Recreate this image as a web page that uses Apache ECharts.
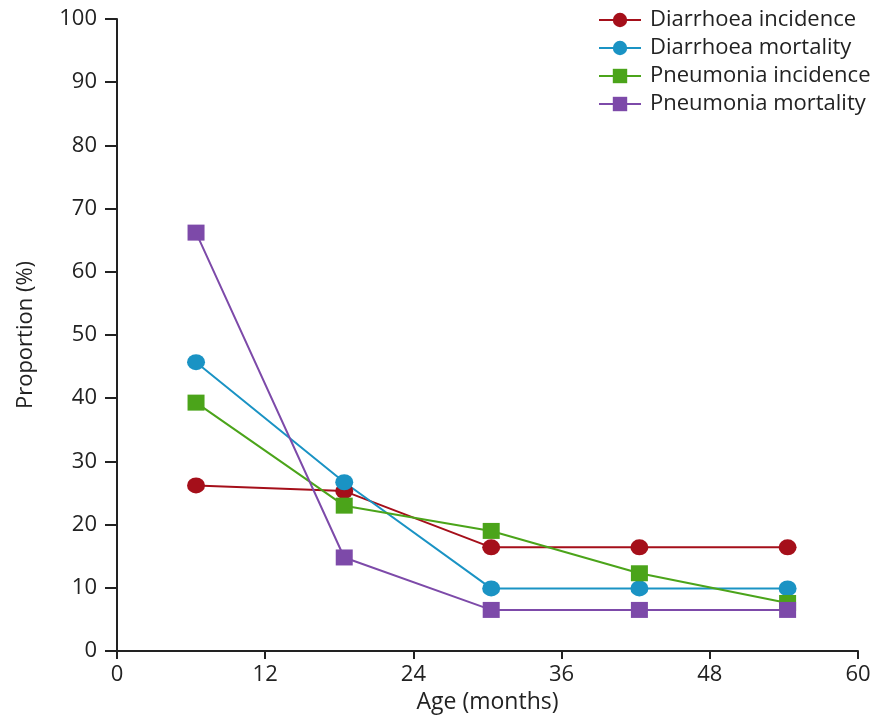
<!DOCTYPE html>
<html><head><meta charset="utf-8">
<script src="https://cdn.jsdelivr.net/npm/echarts@6/dist/echarts.min.js"></script>
<style>html,body{margin:0;padding:0;background:#fff}#c{width:875px;height:719px}</style>
</head><body><div id="c"></div>
<script>
const ages = [6.4, 18.4, 30.3, 42.3, 54.3];
const diarrhoeaIncidence = [26.2, 25.3, 16.4, 16.4, 16.4];
const diarrhoeaMortality = [45.7, 26.7, 9.9, 9.9, 9.9];
const pneumoniaIncidence = [39.3, 23.0, 19.0, 12.3, 7.6];
const pneumoniaMortality = [66.2, 14.8, 6.5, 6.5, 6.5];
const xTicks = [0, 12, 24, 36, 48, 60];

const font = '"Open Sans", Lato, sans-serif';
function mk(name, vals, color, symbol) {
  return {
    name, type: 'line', data: ages.map((a, i) => [a, vals[i]]),
    symbol, symbolSize: symbol === 'circle' ? [18, 16] : [17, 16],
    lineStyle: {color, width: 2}, itemStyle: {color}, z: 3
  };
}
const chart = echarts.init(document.getElementById('c'));
chart.setOption({
  animation: false,
  textStyle: {fontFamily: font},
  grid: {left: 117, right: 17, top: 19, bottom: 66},
  legend: {
    orient: 'vertical', left: 598, top: 9, padding: 0, itemWidth: 42, itemHeight: 18, itemGap: 6,
    textStyle: {fontSize: 22, color: '#222', fontFamily: font, padding: [0, 0, 0, 4]},
    data: ['Diarrhoea incidence', 'Diarrhoea mortality', 'Pneumonia incidence', 'Pneumonia mortality']
  },
  xAxis: {
    type: 'value', min: 0, max: 60, interval: 12,
    name: 'Age (months)', nameLocation: 'middle', nameGap: 40,
    nameTextStyle: {fontSize: 23, color: '#222'},
    axisLine: {lineStyle: {color: '#222', width: 2}},
    axisTick: {show: true, length: 8, lineStyle: {color: '#222', width: 2}},
    axisLabel: {fontSize: 22, color: '#222', margin: 13, formatter: v => xTicks.includes(v) ? String(v) : ''},
    splitLine: {show: false}
  },
  yAxis: {
    type: 'value', min: 0, max: 100, interval: 10,
    name: 'Proportion (%)', nameLocation: 'middle', nameGap: 80,
    nameTextStyle: {fontSize: 22, color: '#222'},
    axisLine: {show: true, lineStyle: {color: '#222', width: 2}},
    axisTick: {show: true, length: 12, lineStyle: {color: '#222', width: 2}},
    axisLabel: {fontSize: 22, color: '#222', margin: 20},
    splitLine: {show: false}
  },
  series: [
    mk('Diarrhoea incidence', diarrhoeaIncidence, '#a50f1a', 'circle'),
    mk('Diarrhoea mortality', diarrhoeaMortality, '#1a93c4', 'circle'),
    mk('Pneumonia incidence', pneumoniaIncidence, '#4ba41a', 'rect'),
    mk('Pneumonia mortality', pneumoniaMortality, '#7d4aa9', 'rect')
  ]
});
</script></body></html>
